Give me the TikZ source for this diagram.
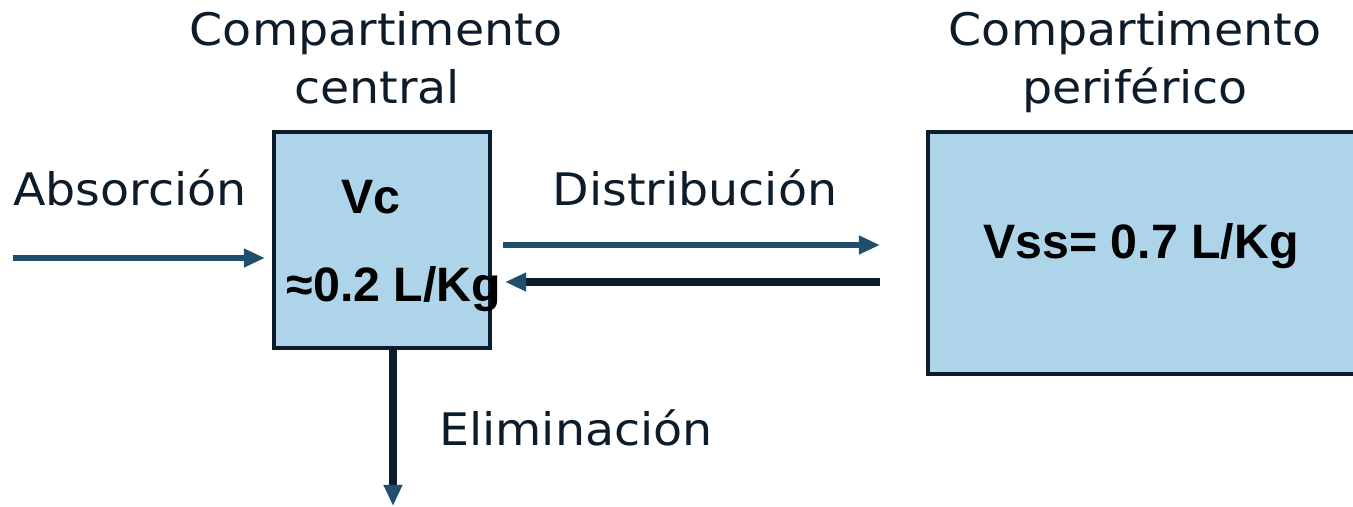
\documentclass[tikz,border=0pt]{standalone}
\usepackage{fontspec}
\setmainfont{Liberation Sans}
\newfontfamily\lblfont{DejaVu Sans}
\usetikzlibrary{arrows.meta}
\definecolor{boxfill}{HTML}{AED4EA}
\definecolor{navy}{HTML}{0D1C2A}
\definecolor{teal}{HTML}{1F4F6C}
\tikzset{
  box/.style={draw=navy, fill=boxfill, line width=2.2pt, inner sep=0pt},
  lbl/.style={anchor=base, text=navy, inner sep=0pt, font=\lblfont\fontsize{25.5}{30}\selectfont},
  big/.style={anchor=base, text=black, inner sep=0pt, font=\bfseries\fontsize{27.5}{32}\selectfont},
  thinarrow/.style={draw=teal, line width=3pt, -{Triangle[length=12pt,width=10pt,color=teal]}},
  thickarrow/.style={draw=navy, line width=4pt, -{Triangle[length=12pt,width=10pt,color=teal]}},
}
\newcommand{\wx}[1]{\scalebox{1.06}[1]{#1}}
\begin{document}
\begin{tikzpicture}[x=0.02cm,y=-0.02cm]
\useasboundingbox (0,0) rectangle (1353,507);
\clip (0,0) rectangle (1353,507);
% boxes
\node[box, minimum width=4.32cm, minimum height=4.32cm] (cen) at (382,240) {};
\node[box, minimum width=8.68cm, minimum height=4.84cm] (per) at (1145,253) {};
% titles
\node[lbl] (t1) at (376,45) {\wx{Compartimento}};
\node[lbl] (t2) at (377,103) {\wx{central}};
\node[lbl] (t3) at (1135,45) {\wx{Compartimento}};
\node[lbl] (t4) at (1135,103) {\wx{periférico}};
% box texts
\node[big] (vc) at (371,213) {Vc};
\node[big] (vcv) at (394,301) {≈0.2 L/Kg};
\node[big] (vss) at (1141,258) {Vss= 0.7 L/Kg};
% arrow labels
\node[lbl] (abs) at (130,205) {\wx{Absorción}};
\node[lbl] (dis) at (695,205) {\wx{Distribución}};
\node[lbl] (eli) at (576,445) {\wx{Eliminación}};
% connectors
\coordinate (a0) at (13,258);
\coordinate (a1) at (265,258);
\draw[thinarrow] (a0) -- (a1);
\coordinate (d0) at (503,245);
\coordinate (d1) at (880,245);
\draw[thinarrow] (d0) -- (d1);
\coordinate (r0) at (880,282);
\coordinate (r1) at (505,282);
\draw[thickarrow] (r0) -- (r1);
\coordinate (e1) at (393,506);
\draw[thickarrow] (cen.south -| e1) -- (e1);
\end{tikzpicture}
\end{document}
